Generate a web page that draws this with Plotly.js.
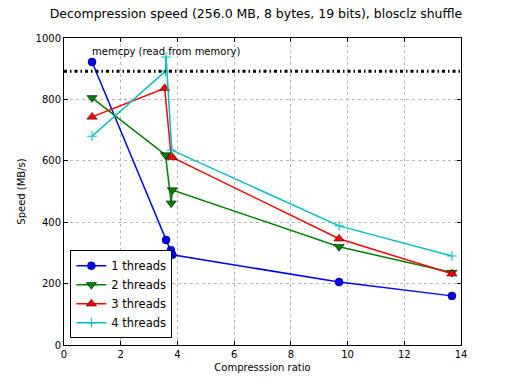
<!DOCTYPE html>
<html><head><meta charset="utf-8">
<script src="https://cdn.plot.ly/plotly-3.0.1.min.js"></script>
<style>body{margin:0;padding:0;background:#fff}#chart{width:512px;height:384px}</style>
</head><body><div id="chart"></div>
<script>
const seriesNames = ['1 threads','2 threads','3 threads','4 threads'];
const x1 = [0.99, 3.6, 3.77, 3.82, 9.7, 13.68];
const y1 = [922, 342, 309, 294, 205, 160];
const x2 = [0.99, 3.58, 3.78, 3.82, 9.7, 13.68];
const y2 = [805, 619, 462, 505, 320, 236];
const x3 = [0.99, 3.55, 3.78, 3.82, 9.7, 13.68];
const y3 = [743, 836, 615, 611, 346, 232];
const x4 = [0.99, 3.58, 3.6, 3.8, 9.7, 13.68];
const y4 = [680, 892, 938, 635, 388, 290];
const memcpySpeed = 892;
const memcpyLabel = 'memcpy (read from memory)';
const xTicks = [0,2,4,6,8,10,12,14];
const yTicks = [0,200,400,600,800,1000];

const colors = ['#0000ff','#008000','#ff0000','#00bfbf'];
const symbols = ['circle','triangle-down','triangle-up','cross-thin-open'];
const xs=[x1,x2,x3,x4], ys=[y1,y2,y3,y4];
const traces = xs.map((x,i)=>({
  x:x, y:ys[i], name:seriesNames[i], type:'scatter', mode:'lines+markers',
  line:{color:colors[i], width:1.5},
  marker: i===3 ? {symbol:'cross-thin-open', size:7, color:colors[i], line:{color:colors[i], width:1}}
                : {symbol:symbols[i], size:i===0?8:9, color:colors[i], line:{color:'#000', width:0.5}}
}));
traces.push({x:[0,14], y:[memcpySpeed,memcpySpeed], type:'scatter', mode:'lines', showlegend:false,
  line:{color:'#000', width:3, dash:'3px,3px,1.5px,3px'}, hoverinfo:'skip'});

const ax = {showline:true, linecolor:'#000', linewidth:1, mirror:'allticks', ticks:'inside', ticklen:4, tickcolor:'#000',
  showgrid:true, gridcolor:'#b8b8b8', griddash:'dot', gridwidth:1, zeroline:false,
  tickfont:{family:'DejaVu Sans', size:10, color:'#000'}};
const layout = {
  width:512, height:384, paper_bgcolor:'#fff', plot_bgcolor:'#fff',
  margin:{l:64, r:51, t:38, b:39},
  title:{text:'Decompression speed (256.0 MB, 8 bytes, 19 bits), blosclz shuffle', font:{family:'DejaVu Sans', size:12.5, color:'#000'}, x:0.5, xanchor:'center', y:0.975, yanchor:'top'},
  xaxis:Object.assign({}, ax, {range:[0,14], tickvals:xTicks, title:{text:'Compresssion ratio', font:{family:'DejaVu Sans', size:10, color:'#000'}, standoff:4}}),
  yaxis:Object.assign({}, ax, {range:[0,1000], tickvals:yTicks, title:{text:'Speed (MB/s)', font:{family:'DejaVu Sans', size:10, color:'#000'}, standoff:8}}),
  legend:{x:0.016, y:0.022, xanchor:'left', yanchor:'bottom', bgcolor:'#fff', bordercolor:'#000', borderwidth:1,
    font:{family:'DejaVu Sans', size:11.5, color:'#000'}, tracegroupgap:0, itemwidth:30},
  annotations:[{x:1.0, y:memcpySpeed, xref:'x', yref:'y', text:memcpyLabel, showarrow:false, xanchor:'left', yanchor:'bottom', yshift:12, xshift:-2,
    font:{family:'DejaVu Sans', size:10, color:'#000'}}]
};
Plotly.newPlot('chart', traces, layout, {displayModeBar:false, staticPlot:true});
</script></body></html>
